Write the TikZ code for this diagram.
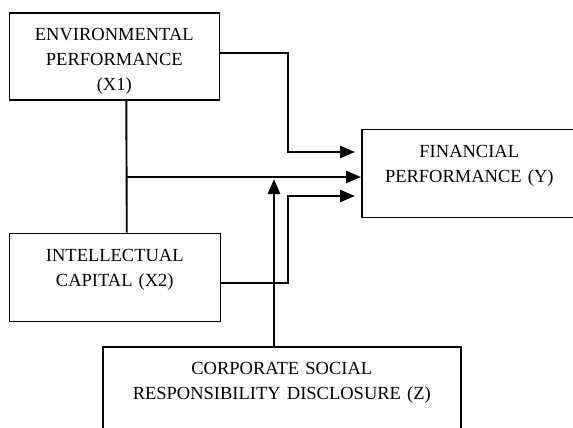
\documentclass[tikz,border=0pt]{standalone}
\usepackage{fontspec}
\setmainfont{Liberation Serif}
\usetikzlibrary{arrows.meta}
\tikzset{
	box/.style={draw, line width=1.6pt, anchor=north west, inner xsep=0pt, inner ysep=0pt,
		align=center, text height=28pt, font=\fontsize{18.5}{25}\selectfont},
	conn/.style={line width=2.5pt}
}
\begin{document}
\begin{tikzpicture}[x=1pt, y=-1pt, line join=miter, >={Triangle[length=15pt,width=12pt]}]
		
		\clip (0,0) rectangle (573,428);
		
		\node[box, text width=210pt, text depth=59pt] (x1) at (8.5,12) {ENVIRONMENTAL\\PERFORMANCE\\(X1)};
		\node[box, text width=211pt, text depth=60pt] (x2) at (8.5,232.5) {INTELLECTUAL\\CAPITAL (X2)};
		\node[box, text width=215pt, text depth=60pt] (y) at (361,128.5) {FINANCIAL\\PERFORMANCE (Y)};
		\node[box, text width=358pt, text depth=90pt] (z) at (102,346) {CORPORATE SOCIAL\\RESPONSIBILITY DISCLOSURE (Z)};
		
		\coordinate (mid) at (126,177);
		\coordinate (upin) at (355,152);
		\coordinate (lowin) at (355,196);
		
		\draw[line width=1.9pt] ([xshift=12pt]x1.south) -- ([xshift=12pt]x2.north);
		\draw[conn,->] ([yshift=3.5pt]x1.east) -| (288,152) -- (upin);
		\draw[conn,->] (mid) -- (mid -| y.west);
		\draw[conn,->] ([yshift=-5.5pt]x2.east) -| (288,196) -- (lowin);
		\draw[conn,->] (274,346) -- (274,179);
		
\end{tikzpicture}
\end{document}
